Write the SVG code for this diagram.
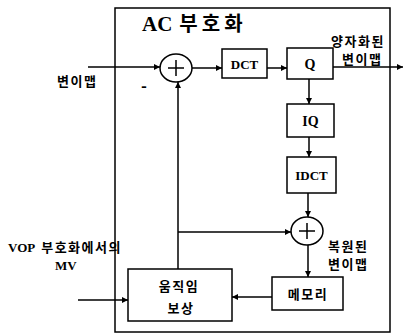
<svg xmlns="http://www.w3.org/2000/svg" width="406" height="335" viewBox="0 0 406 335">
<style>
.box{fill:#fff;stroke:#000;stroke-width:1.5}
.ln{fill:none;stroke:#000;stroke-width:1.5}
.ser{font-family:"Liberation Serif","Noto Sans CJK KR",serif;font-weight:bold;fill:#000}
.kr{font-family:"Noto Sans CJK KR","Liberation Sans",sans-serif;font-weight:bold;fill:#000;letter-spacing:1.5px}
</style>
<defs>
<marker id="ah" viewBox="0 0 10 10" refX="10" refY="5" markerWidth="8" markerHeight="6" markerUnits="userSpaceOnUse" orient="auto">
<path d="M0,0 L10,5 L0,10 z" fill="#000"/>
</marker>
</defs>
<rect x="0" y="0" width="406" height="335" fill="#fff"/>
<g id="outer">
<rect class="ln" x="115" y="8" width="275" height="324"/>
<text x="142" y="31" font-size="21"><tspan class="ser">AC</tspan><tspan class="kr" font-size="20" dx="7" style="letter-spacing:4px">부호화</tspan></text>
</g>
<g id="sum1"><ellipse class="box" cx="176" cy="68" rx="16" ry="14"/><path class="ln" d="M168,68 H184 M176,60 V76"/></g>
<g id="dct"><rect class="box" x="222" y="49" width="45" height="29"/><text class="ser" x="244.5" y="69" font-size="13" text-anchor="middle">DCT</text></g>
<g id="q"><rect class="box" x="287" y="48" width="46" height="31"/><text class="ser" x="310" y="69" font-size="14" text-anchor="middle">Q</text></g>
<g id="iq"><rect class="box" x="287" y="104" width="47" height="33"/><text class="ser" x="310.5" y="126" font-size="14" text-anchor="middle">IQ</text></g>
<g id="idct"><rect class="box" x="287" y="157" width="49" height="36"/><text class="ser" x="311.5" y="180" font-size="13" text-anchor="middle">IDCT</text></g>
<g id="sum2"><ellipse class="box" cx="307" cy="231" rx="16" ry="14"/><path class="ln" d="M299,231 H315 M307,223 V239"/></g>
<g id="mem"><rect class="box" x="272" y="277" width="71" height="33"/><text class="kr" x="308" y="299" font-size="13" text-anchor="middle">메모리</text></g>
<g id="mc"><rect class="box" x="128" y="269" width="104" height="52"/><text class="kr" x="179" y="291" font-size="13" text-anchor="middle">움직임</text><text class="kr" x="181" y="313" font-size="13" text-anchor="middle">보상</text></g>
<g id="connectors">
<path class="ln" d="M88,67 H160" marker-end="url(#ah)"/>
<path class="ln" d="M192,68 H222" marker-end="url(#ah)"/>
<path class="ln" d="M267,68 H287" marker-end="url(#ah)"/>
<path class="ln" d="M333,67 H403" marker-end="url(#ah)"/>
<path class="ln" d="M309,79 V104" marker-end="url(#ah)"/>
<path class="ln" d="M309,137 V157" marker-end="url(#ah)"/>
<path class="ln" d="M308,193 V217" marker-end="url(#ah)"/>
<path class="ln" d="M308,245 V277" marker-end="url(#ah)"/>
<path class="ln" d="M272,297 H232" marker-end="url(#ah)"/>
<path class="ln" d="M178,269 V82" marker-end="url(#ah)"/>
<path class="ln" d="M178,232 H291" marker-end="url(#ah)"/>
<path class="ln" d="M78,300 H128" marker-end="url(#ah)"/>
</g>
<g id="labels">
<text class="kr" x="57" y="86" font-size="13">변이맵</text>
<text class="kr" x="141" y="92" font-size="16">-</text>
<text class="kr" x="331" y="46" font-size="13">양자화된</text>
<text class="kr" x="342" y="64" font-size="13">변이맵</text>
<text class="kr" x="328" y="251" font-size="13">복원된</text>
<text class="kr" x="328" y="269" font-size="13">변이맵</text>
<text x="8" y="252" font-size="13"><tspan class="ser" font-weight="normal">VOP</tspan><tspan class="kr" dx="6">부호화에서의</tspan></text>
<text class="ser" x="55" y="270" font-size="13">MV</text>
</g>
</svg>
